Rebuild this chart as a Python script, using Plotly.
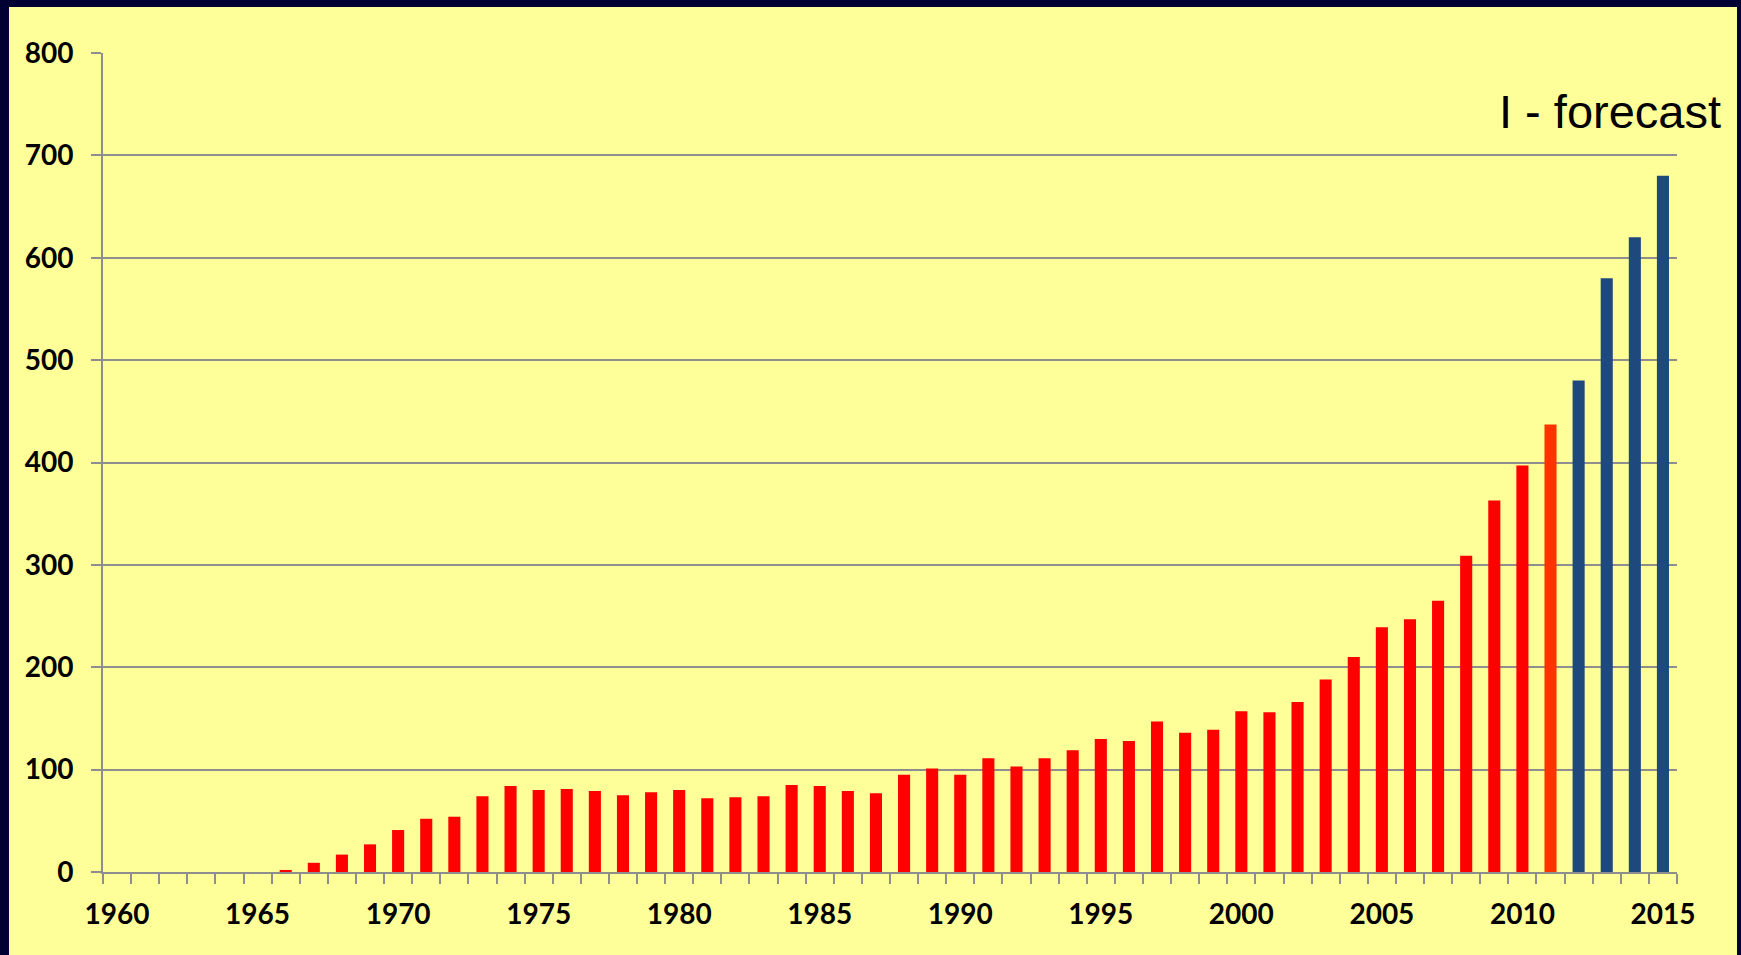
import plotly.graph_objects as go

# data
years = list(range(1960, 2016))
values = [0, 0, 0, 0, 0, 0, 2, 9, 17, 27,
          41, 52, 54, 74, 84, 80, 81, 79, 75, 78,
          80, 72, 73, 74, 85, 84, 79, 77, 95, 101,
          95, 111, 103, 111, 119, 130, 128, 147, 136, 139,
          157, 156, 166, 188, 210, 239, 247, 265, 309, 363,
          397, 437, 480, 580, 620, 680]
# kind of each year: actual, estimate (2011), forecast
kinds = ["actual"] * 51 + ["estimate"] + ["forecast"] * 4
kind_colors = {"actual": "#FF0000", "estimate": "#FF3300", "forecast": "#1F497D"}
label_years = [1960, 1965, 1970, 1975, 1980, 1985, 1990, 1995, 2000, 2005, 2010, 2015]
y_ticks = [0, 100, 200, 300, 400, 500, 600, 700, 800]

W, H = 1741, 955
L, R, T, B = 103, 64, 53, 83
pw, ph = W - L - R, H - T - B

def px_x(x):
    # page x -> paper fraction
    return (x - L) / pw

def px_y(y):
    # page y -> paper fraction
    return (H - B - y) / ph

fig = go.Figure()
fig.add_trace(go.Bar(
    x=years,
    y=values,
    marker=dict(color=[kind_colors[k] for k in kinds], line=dict(width=0)),
    hovertemplate="%{x}: %{y}<extra></extra>",
))

grid = "#8E8E8E"
tick_font = dict(family="Lato, 'Open Sans', sans-serif", size=28, color="black", weight="bold")

fig.update_layout(
    width=W, height=H,
    margin=dict(l=L, r=R, t=T, b=B),
    paper_bgcolor="#000033",
    plot_bgcolor="rgba(0,0,0,0)",
    bargap=0.57,
    showlegend=False,
    shapes=[dict(type="rect", xref="paper", yref="paper",
                 x0=px_x(9), x1=px_x(1737), y0=px_y(960), y1=px_y(7),
                 fillcolor="#FFFF99", line=dict(width=0), layer="below")],
    annotations=[dict(text="I - forecast", xref="paper", yref="paper",
                      x=px_x(1723), y=px_y(112), xanchor="right", yanchor="middle",
                      showarrow=False,
                      font=dict(family="Liberation Sans, Arial", size=47, color="black"))],
)

fig.update_xaxes(
    range=[1959.5, 2015.5],
    tickmode="array", tickvals=label_years,
    ticks="", tickfont=tick_font,
    ticklabelstandoff=16,
    showgrid=False, zeroline=False,
    showline=True, linecolor=grid, linewidth=2,
    minor=dict(tick0=1959.5, dtick=1, ticks="outside", ticklen=10,
               tickwidth=2, tickcolor=grid, showgrid=False),
)
fig.update_yaxes(
    range=[0, 800],
    tickmode="array", tickvals=y_ticks,
    ticks="outside", ticklen=10, tickwidth=2, tickcolor=grid,
    tickfont=tick_font,
    ticklabelstandoff=12,
    showgrid=True, gridcolor=grid, gridwidth=2,
    zeroline=False,
    showline=True, linecolor=grid, linewidth=2,
)

# drop the browser's default body margin so the figure fills the window
fig.write_html(
    "out.html",
    config={"displayModeBar": False},
    post_script="document.body.style.margin='0';document.body.style.background='#000033';",
)
